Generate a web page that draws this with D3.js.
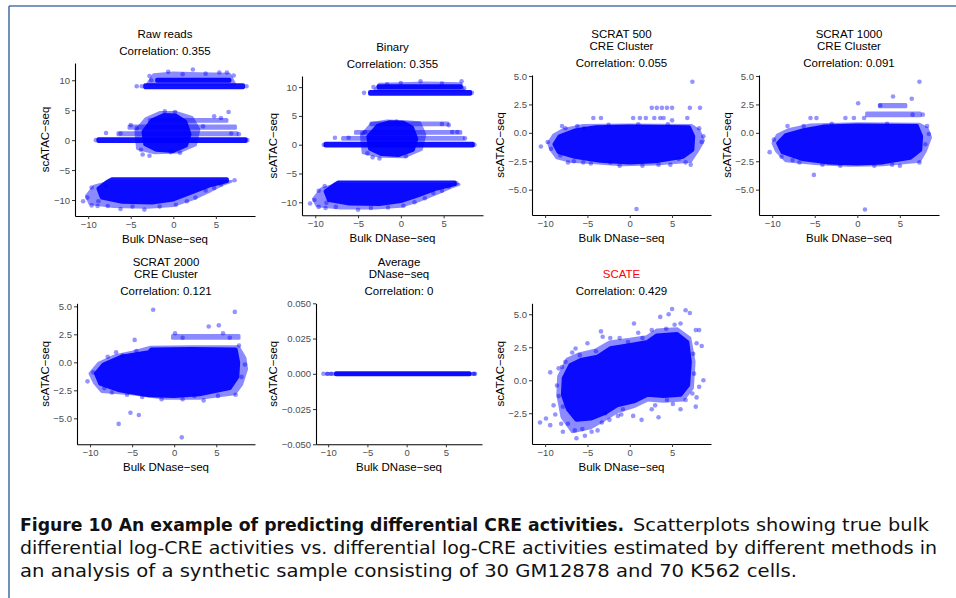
<!DOCTYPE html>
<html lang="en">
<head>
<meta charset="utf-8">
<script src="https://cdn.jsdelivr.net/npm/d3@7"></script>
<title>Differential CRE activities</title>
<style>
  body { margin: 0; background: #fff; }
  .tick text { fill: #4d4d4d; font-size: 9.5px; font-family: "Liberation Sans", Arial, sans-serif; }
  .tick line { stroke: #333; }
  .domain { stroke: #000; stroke-width: 1.1; }
  .ttl { font-family: "Liberation Sans", Arial, sans-serif; font-size: 11.5px; fill: #000; text-anchor: middle; }
  .cap { font-family: "DejaVu Sans", sans-serif; font-size: 17.5px; fill: #111; }
</style>
</head>
<body>
<div id="fig"></div>
<script>
// ---- data (x = Bulk DNase-seq, y = scATAC-seq) ----
// dense regions are given as outlines, sparse points as single dots
var xTicks = [-10, -5, 0, 5];
var yTicksReads = [-10, -5, 0, 5, 10];
var yTicksScrat = [-5, -2.5, 0, 2.5, 5];
var yTicksAvg = [-0.05, -0.025, 0, 0.025, 0.05];
var yTicksScate = [-2.5, 0, 2.5, 5];

var rawHalo = [
  [[-3,9.4],[-2.3,10.9],[0,11.2],[3,11.1],[6.6,11.0],[7.2,9.4]],
  [[-4.2,-1.4],[-4.4,1.6],[-3.2,3.6],[-1.6,4.6],[0.4,4.6],[2.2,3.8],[3,1.8],[2.6,-0.8],[0.6,-2],[-2.2,-2.1]],
  [[-6.5,0.9],[7.5,0.9],[7.5,1.25],[-6.5,1.25]],
  [[-5.2,2.0],[7.3,2.0],[7.3,2.35],[-5.2,2.35]],
  [[-2.8,3.15],[6.3,3.15],[6.3,3.45],[-2.8,3.45]],
  [[-10.2,-9.3],[-9.8,-10.6],[-7,-11.1],[-3,-11.2],[0,-10.9],[2.3,-9.8],[4.3,-8.5],[5.8,-7.4],[6.8,-6.9],[-7.3,-6.9],[-9.3,-7.7]]
];
var rawCore = [
  [[-3.3,8.85],[8.2,8.85],[8.2,9.15],[-3.3,9.15]],
  [[-1.9,9.9],[6.6,9.9],[6.6,10.1],[-1.9,10.1]],
  [[-8.8,-0.15],[8.5,-0.15],[8.5,0.15],[-8.8,0.15]],
  [[-3.3,-0.7],[-3.5,1.4],[-2.5,3.3],[-1.1,4.2],[0.3,4.1],[1.4,3.1],[1.9,1],[1.5,-0.9],[0,-1.8],[-2,-1.6]],
  [[-7.2,-6.55],[6.3,-6.55],[6.3,-6.85],[4.2,-7.6],[2,-8.8],[0,-9.9],[-2.5,-10.4],[-6,-10.3],[-8.4,-9.6],[-8.8,-8.1],[-7.8,-7]]
];
var rawDots = [
  [-10.6,-10.2],[-10.1,-9.6],[-9.6,-10.9],[-8.9,-11],[-8.8,-10.2],[-7.7,-11],[-6.2,-11.5],[-4.8,-11.1],[-3.4,-11.6],
  [-1.6,-11.1],[0.3,-10.8],[1.6,-10.2],[2.6,-9.6],[3.8,-8.4],[4.8,-8.0],[5.6,-7.4],[7.2,-6.7],[-7.9,-7.7],[-9.6,-7.9],
  [-9.1,0],[8.7,0],[-7.9,1.2],[-6.2,1.1],[-4.3,2.0],[-5.0,2.5],[-3.8,-1.6],[-3.6,-2.4],[-2.8,-2.6],[0.8,-2.1],
  [-0.3,-2.0],[3.5,2.3],[5.6,3.7],[6.5,4.7],[6.8,1.1],[7.7,1.0],[-1.0,4.8],[0.2,4.7],[4.8,4.0],
  [2.3,11.8],[-0.6,11.4],[1.1,11.0],[3.8,11.1],[5.4,11.3],[6.3,11.3],[7.1,10.8],[-4.3,9.0],[-3.7,9.0],[8.6,9.0],
  [-2.6,10.0],[-2.8,10.7]
];

var binHalo = [
  [[-3,9.5],[-2.5,10.5],[0,10.6],[3,10.7],[7,10.6],[7.3,9.5]],
  [[-4.4,-1.4],[-4.6,1.6],[-3.4,3.7],[-1.6,4.1],[0.6,4.0],[2.2,3.8],[2.8,1.8],[2.4,-0.8],[0.4,-2.1],[-2.4,-2.0]],
  [[-6.8,0.95],[7.3,0.95],[7.3,1.25],[-6.8,1.25]],
  [[-5.3,2.0],[7.0,2.0],[7.0,2.3],[-5.3,2.3]],
  [[-3.5,3.45],[5.5,3.45],[5.5,3.75],[-3.5,3.75]],
  [[-10.2,-9.4],[-9.8,-10.6],[-7,-11],[-3,-11],[0,-10.7],[2.3,-9.6],[4.3,-8.4],[5.8,-7.4],[6.8,-6.9],[-7.5,-6.9],[-9.3,-7.7]]
];
var binCore = [
  [[-3.6,8.85],[8.1,8.85],[8.1,9.15],[-3.6,9.15]],
  [[-2.6,9.95],[7.0,9.95],[7.0,10.15],[-2.6,10.15]],
  [[-8.8,-0.15],[8.4,-0.15],[8.4,0.15],[-8.8,0.15]],
  [[-3.6,-0.7],[-3.8,1.4],[-2.7,3.3],[-1.3,3.9],[0.3,3.8],[1.3,3],[1.8,1],[1.4,-0.9],[-0.3,-1.8],[-2.3,-1.6]],
  [[-7.3,-6.55],[6.3,-6.55],[6.3,-6.85],[4.2,-7.6],[2,-8.8],[0,-9.8],[-2.5,-10.3],[-6,-10.2],[-8.4,-9.6],[-8.8,-8.1],[-7.8,-7]]
];
var binDots = [
  [-10.6,-10.2],[-10.1,-9.6],[-9.6,-10.8],[-8.8,-11],[-8.7,-10.1],[-7.6,-10.8],[-5.0,-11.3],[-3.5,-11.0],[-1.5,-10.9],
  [0.3,-10.6],[1.6,-10.0],[2.8,-9.3],[3.8,-8.4],[4.8,-8.0],[5.6,-7.3],[6.5,-6.7],[-8.9,-7.2],[-9.6,-8.0],
  [-9.0,0],[8.6,0],[-7.7,1.2],[-6.1,1.2],[-4.2,2.2],[-3.9,-1.5],[-3.3,-2.2],[-2.5,-2.4],[0.6,-2.0],[6.6,2.2],
  [5.6,3.4],[4.8,3.6],[7.5,1.1],[-0.5,4.0],[-4.5,2.0],[6.0,2.2],
  [2.3,11.0],[7.1,11.0],[0.0,10.7],[4.8,10.6],[-1.6,10.5],[-4.3,9.0],[8.3,9.0],[7.4,9.8],[-3.2,10.0]
];

var s500Halo = [
  [[-9.6,-0.9],[-9,-0.2],[-7.8,0.3],[-5.5,0.65],[0,0.7],[7.3,0.65],[8.2,0.2],[8.7,-0.7],[8,-1.6],[7.2,-2.5],[3,-2.75],[-1,-2.8],[-4.5,-2.6],[-7,-2.5],[-8.6,-2.2],[-9.3,-1.5]]
];
var s500Core = [
  [[-8.9,-1.0],[-8.3,-0.3],[-6.5,0.2],[-4,0.5],[0,0.55],[7.0,0.5],[7.5,-0.3],[7.4,-1.5],[6.3,-2.1],[3,-2.5],[0,-2.6],[-3.5,-2.45],[-6.5,-2.1],[-8.4,-1.7]]
];
var s500Dots = [
  [-10.5,-1.2],[-9.7,-0.8],[-9.3,-1.4],[-8.2,-2.0],[-8.0,0.6],[-7.6,0.4],[-6.6,-2.5],[-5.4,0.4],[-4.3,1.3],[-3.4,1.3],
  [-2.3,-2.6],[0.4,1.3],[1.2,1.3],[1.9,1.3],[2.9,1.3],[3.6,1.3],[4.0,1.3],[5.0,1.1],[6.8,1.3],[2.6,2.2],[3.2,2.2],
  [3.8,2.2],[4.4,2.2],[5.0,2.2],[7.1,2.2],[8.3,2.2],[7.4,4.5],[0.8,-6.7],[8.2,0.4],[8.7,-0.3],[8.5,-0.8],[7.2,-2.8],
  [4.8,-2.8],[5.8,-2.3],[-7.3,-2.6],[-5.5,-2.6],[-4.6,-2.7],[-1.2,-2.9],[1.5,-2.9],[3.4,-2.8],[6.6,-2.6],[-6.2,0.6],
  [-2.5,0.7],[1.0,0.75],[4.5,0.75]
];

var s1000Halo = [
  [[-9.9,-0.9],[-9.4,-0.2],[-8,0.3],[-5.5,0.7],[0,0.8],[7.3,0.75],[8.2,0.4],[8.6,-0.4],[8,-1.6],[7.3,-2.5],[3,-2.8],[-1,-2.85],[-5,-2.7],[-8.4,-2.45],[-9.5,-1.6]],
  [[1.1,1.5],[7.4,1.5],[7.4,1.75],[1.1,1.75]],
  [[2.6,2.3],[5.7,2.3],[5.7,2.5],[2.6,2.5]]
];
var s1000Core = [
  [[-9.3,-0.9],[-8.4,-0.2],[-6.5,0.2],[-4,0.55],[0,0.65],[7.0,0.6],[7.5,-0.3],[7.4,-1.5],[6.2,-2.2],[3,-2.6],[0,-2.7],[-3.5,-2.6],[-6.5,-2.3],[-8.8,-1.7]]
];
var s1000Dots = [
  [-10.3,-1.7],[-9.8,-0.6],[-8.9,-2.1],[-8.2,0.6],[-7.6,-2.4],[-5.5,1.3],[-4.8,1.3],[-5.1,-3.7],[-1.4,1.3],[-0.4,1.3],
  [0.1,2.6],[0.8,1.3],[2.7,2.4],[4.2,3.2],[6.4,3.0],[7.3,4.5],[0.9,-6.75],[8.2,0.6],[8.4,-0.1],[8.0,-1.0],[7.3,-2.6],
  [5.0,-2.9],[2.0,-2.9],[6.5,1.6],[7.7,1.6],[-6.8,-2.6],[-4.1,-2.8],[-2.0,-2.9],[4.1,-2.8],[-6.3,0.6],[-3.0,0.8],
  [3.5,0.8]
];

var s2000Halo = [
  [[-10,-1],[-9,-0.1],[-7,0.6],[-5,0.9],[-2.8,1.35],[2,1.4],[7.6,1.4],[8.4,0.4],[8.6,-0.6],[8,-2],[7.2,-2.8],[3,-3.2],[-1,-3.2],[-5,-2.8],[-8.6,-2.6],[-9.5,-1.8]],
  [[-0.2,2.15],[7.7,2.15],[7.7,2.4],[-0.2,2.4]]
];
var s2000Core = [
  [[-9.3,-1.0],[-8.4,-0.2],[-6.3,0.5],[-3,0.9],[-2.7,1.15],[2,1.2],[7.3,1.15],[7.6,0],[7.5,-1.3],[6.6,-2.3],[3,-2.85],[0,-3.0],[-3,-2.95],[-6.5,-2.5],[-8.8,-1.9]]
];
var s2000Dots = [
  [-10.3,-1.7],[-9.6,-0.9],[-8.3,-2.3],[-7.9,0.5],[-6.1,0.6],[-4.7,2.0],[-2.5,4.7],[0.1,2.6],[1.0,2.2],[4.1,3.2],
  [5.3,3.3],[7.2,4.5],[7.7,1.5],[8.4,-0.2],[8.0,-1.3],[7.3,-2.9],[3.5,-3.4],[2.4,-3.0],[-5.2,-4.5],[-4.2,-4.7],
  [-6.6,-5.5],[0.9,-6.7],[5.8,2.6],[6.6,2.2],[-7.4,-2.7],[-5.6,-2.9],[-3.8,-3.1],[-1.5,-3.3],[1.0,-3.3],[5.2,-3.0],
  [-4.5,1.0],[-6.9,0.9]
];

var avgHalo = [[[-10.2,-0.0003],[8.7,-0.0003],[8.7,0.0003],[-10.2,0.0003]]];
var avgCore = [[[-9.0,-0.0004],[8.0,-0.0004],[8.0,0.0004],[-9.0,0.0004]]];
var avgDots = [[-10.6,0],[-10.1,0],[-9.6,0],[8.5,0],[8.7,0]];

var scateHalo = [
  [[-8.4,0.3],[-7.4,1.6],[-6,2.0],[-4,2.3],[-2.4,2.9],[0,3.1],[2,3.3],[3.2,3.8],[5.6,3.9],[7.1,3.2],[7.6,1.4],[7.4,-0.6],[6.3,-1.5],[4,-1.6],[2.1,-1.5],[0.5,-2.0],[-1.5,-2.4],[-3,-3.0],[-4.6,-3.6],[-6.8,-3.9],[-8,-2.8],[-8.5,-1.1]]
];
var scateCore = [
  [[-7.8,0.15],[-7.0,1.16],[-5.8,1.54],[-3.8,1.79],[-2.3,2.42],[0.1,2.67],[2.1,2.9],[3.2,3.4],[5.6,3.5],[6.8,2.9],[7.1,1.4],[6.9,-0.36],[6.0,-1.1],[4.0,-1.2],[2.1,-1.1],[0.5,-1.6],[-1.5,-1.9],[-3.0,-2.5],[-4.6,-2.9],[-6.3,-3.0],[-7.3,-2.2],[-7.9,-1.1]]
];
var scateDots = [
  [-10.6,-3.2],[-9.9,-2.9],[-9.4,-3.4],[-8.8,-2.6],[-9.0,-1.9],[-8.4,-1.2],[-8.6,-0.4],[-9.4,0.6],[-8.4,0.9],[-8.0,1.0],
  [-7.6,1.4],[-6.8,2.1],[-5.9,1.9],[-5.0,2.8],[-4.0,2.2],[-3.4,3.7],[-3.2,3.3],[-2.3,3.2],[-1.2,3.2],[-0.2,2.9],
  [0.5,4.3],[1.5,3.2],[2.6,3.8],[3.6,4.8],[4.6,5.0],[5.0,5.4],[6.6,5.3],[7.1,5.1],[5.3,4.2],[4.3,3.9],[7.8,3.8],
  [8.2,3.8],[7.9,2.8],[8.5,2.6],[7.5,2.0],[8.7,0.0],[8.2,-0.5],[7.9,-1.3],[7.8,-2.0],[6.6,-1.5],[6.0,-2.2],[5.1,-1.8],
  [4.4,-1.5],[3.4,-2.8],[2.6,-2.2],[1.4,-3.0],[0.4,-2.7],[-0.8,-2.2],[-1.4,-2.7],[-2.4,-3.0],[-3.3,-3.2],[-3.8,-3.8],
  [-4.5,-3.9],[-5.3,-4.2],[-6.3,-4.4],[-6.5,-3.8],[-7.3,-3.3],[-7.9,-3.9],[-8.1,-3.3],[-5.6,-3.7],[-2.9,-2.5],
  [-7.9,-2.0],[-6.4,2.4],[1.0,3.6],[6.0,4.3],[7.6,0.5],[7.4,-1.0],[3.0,-1.9],[-1.0,-2.6]
];

var caption = [
  "differential log-CRE activities vs. differential log-CRE activities estimated by different methods in",
  "an analysis of a synthetic sample consisting of 30 GM12878 and 70 K562 cells."
];

// ---- layout ----
var W = 956, H = 598;
var svg = d3.select("#fig").append("svg").attr("width", W).attr("height", H);
svg.append("rect").attr("width", W).attr("height", H).attr("fill", "#fff");

var xDom = [-11.55, 9.6];
var fmtInt = d3.format("d"), fmt1 = d3.format(".1f"), fmt3 = d3.format(".3f");

var panels = [
  {title: ["Raw reads"], corr: "Correlation: 0.355", halo: rawHalo, core: rawCore, dots: rawDots,
   box: [75, 255, 63, 216], yDom: [-12.67, 12.88], yTicks: yTicksReads, fmt: fmtInt, ylabX: 49},
  {title: ["Binary"], corr: "Correlation: 0.355", halo: binHalo, core: binCore, dots: binDots,
   box: [302, 483, 76, 215.3], yDom: [-12.26, 11.93], yTicks: yTicksReads, fmt: fmtInt, ylabX: 277},
  {title: ["SCRAT 500", "CRE Cluster"], corr: "Correlation: 0.055", halo: s500Halo, core: s500Core, dots: s500Dots,
   box: [532, 711, 75, 215], yDom: [-7.23, 5.09], yTicks: yTicksScrat, fmt: fmt1, ylabX: 504},
  {title: ["SCRAT 1000", "CRE Cluster"], corr: "Correlation: 0.091", halo: s1000Halo, core: s1000Core, dots: s1000Dots,
   box: [759, 939, 75, 215], yDom: [-7.23, 5.09], yTicks: yTicksScrat, fmt: fmt1, ylabX: 731},
  {title: ["SCRAT 2000", "CRE Cluster"], corr: "Correlation: 0.121", halo: s2000Halo, core: s2000Core, dots: s2000Dots,
   box: [77, 255, 303.3, 444.3], yDom: [-7.32, 5.27], yTicks: yTicksScrat, fmt: fmt1, ylabX: 49},
  {title: ["Average", "DNase\u2212seq"], corr: "Correlation: 0", halo: avgHalo, core: avgCore, dots: avgDots,
   box: [316, 482, 303.3, 444.3], yDom: [-0.05, 0.05], yTicks: yTicksAvg, fmt: fmt3, ylabX: 277},
  {title: ["SCATE"], corr: "Correlation: 0.429", red: true, halo: scateHalo, core: scateCore, dots: scateDots,
   box: [532, 711, 303.3, 444], yDom: [-4.83, 5.83], yTicks: yTicksScate, fmt: fmt1, ylabX: 504}
];

panels.forEach(function(p) {
  var l = p.box[0], r = p.box[1], t = p.box[2], b = p.box[3];
  var x = d3.scaleLinear().domain(xDom).range([l, r]);
  var y = d3.scaleLinear().domain(p.yDom).range([b, t]);
  var line = d3.line().x(function(d) { return x(d[0]); }).y(function(d) { return y(d[1]); }).curve(d3.curveLinearClosed);

  var g = svg.append("g");
  g.selectAll("path.halo").data(p.halo).enter().append("path")
    .attr("class", "halo").attr("d", line)
    .attr("fill", "#0000ff").attr("stroke", "#0000ff").attr("stroke-width", 3)
    .attr("stroke-linejoin", "round").attr("opacity", 0.45);
  g.selectAll("path.core").data(p.core).enter().append("path")
    .attr("class", "core").attr("d", line)
    .attr("fill", "#0000ff").attr("stroke", "#0000ff").attr("stroke-width", 4)
    .attr("stroke-linejoin", "round").attr("opacity", 0.92);
  g.selectAll("circle").data(p.dots).enter().append("circle")
    .attr("cx", function(d) { return x(d[0]); })
    .attr("cy", function(d) { return y(d[1]); })
    .attr("r", 2.3).attr("fill", "#0000ff").attr("opacity", 0.42);

  svg.append("g").attr("transform", "translate(0," + b + ")")
    .call(d3.axisBottom(x).tickValues(xTicks).tickSize(3).tickSizeOuter(0).tickPadding(2).tickFormat(fmtInt));
  svg.append("g").attr("transform", "translate(" + l + ",0)")
    .call(d3.axisLeft(y).tickValues(p.yTicks).tickSize(3).tickSizeOuter(0).tickPadding(2).tickFormat(p.fmt));

  var cx = (l + r) / 2;
  var lines = p.title.slice().reverse();
  lines.forEach(function(s, i) {
    svg.append("text").attr("class", "ttl").attr("x", cx).attr("y", t - 25 - i * 12.5)
      .style("fill", p.red ? "#ff0000" : "#000").text(s);
  });
  svg.append("text").attr("class", "ttl").attr("x", cx).attr("y", t - 8.5).text(p.corr);

  svg.append("text").attr("class", "ttl").attr("x", cx).attr("y", b + 27).text("Bulk DNase\u2212seq");
  svg.append("text").attr("class", "ttl")
    .attr("transform", "translate(" + p.ylabX + "," + ((t + b) / 2) + ") rotate(-90)")
    .text("scATAC\u2212seq");
});

// frame
svg.append("line").attr("x1", 9).attr("x2", W).attr("y1", 6).attr("y2", 6)
  .attr("stroke", "#4f74a6").attr("stroke-width", 1.6);
svg.append("line").attr("x1", 9).attr("x2", 9).attr("y1", 6).attr("y2", H)
  .attr("stroke", "#4f74a6").attr("stroke-width", 1.6);

// caption
svg.append("text").attr("class", "cap").attr("x", 20).attr("y", 531)
  .attr("textLength", 604).attr("lengthAdjust", "spacingAndGlyphs")
  .style("font-weight", "bold").text("Figure 10  An example of predicting differential CRE activities.");
svg.append("text").attr("class", "cap").attr("x", 633).attr("y", 531)
  .attr("textLength", 296).attr("lengthAdjust", "spacingAndGlyphs")
  .text("Scatterplots showing true bulk");
svg.append("text").attr("class", "cap").attr("x", 20).attr("y", 554)
  .attr("textLength", 917).attr("lengthAdjust", "spacingAndGlyphs").text(caption[0]);
svg.append("text").attr("class", "cap").attr("x", 20).attr("y", 577)
  .attr("textLength", 777).attr("lengthAdjust", "spacingAndGlyphs").text(caption[1]);
</script>
</body>
</html>
